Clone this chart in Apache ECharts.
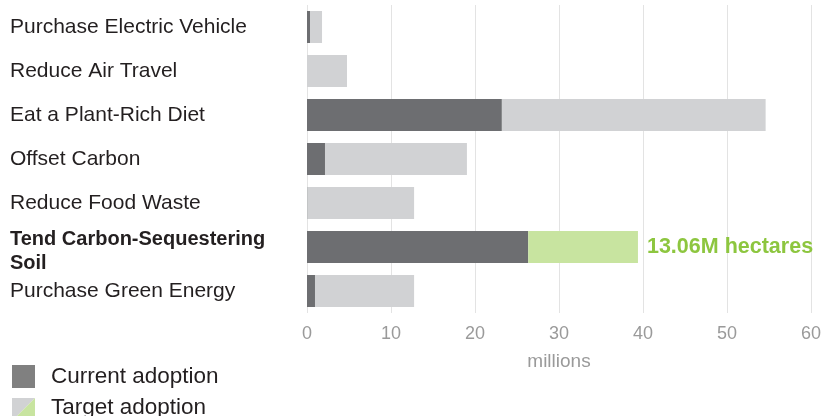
<!DOCTYPE html>
<html><head><meta charset="utf-8">
<script src="https://cdn.jsdelivr.net/npm/echarts@6/dist/echarts.min.js"></script>
<style>html,body{margin:0;padding:0;background:#fff}#c{width:824px;height:416px}</style>
</head><body><div id="c"></div>
<script>
const categories = ["Purchase Electric Vehicle","Reduce Air Travel","Eat a Plant-Rich Diet","Offset Carbon","Reduce Food Waste","Tend Carbon-Sequestering\nSoil","Purchase Green Energy"];
const currentAdoption = [0.36, 0, 23.2, 2.14, 0.05, 26.34, 0.95];
const additionalToTarget = [1.43, 4.76, 31.4, 16.9, 12.7, 13.06, 11.8];
const highlightIndex = 5;
const highlightLabel = "13.06M hectares";
const xTicks = [0, 10, 20, 30, 40, 50, 60];

const FONT = "Liberation Sans";
const chart = echarts.init(document.getElementById('c'));
chart.setOption({
  animation: false,
  textStyle: {fontFamily: FONT},
  grid: {left: 307, right: 13, top: 5, height: 308, containLabel: false},
  xAxis: {
    type: 'value', min: xTicks[0], max: xTicks[xTicks.length-1], interval: 10,
    axisLine: {show: false}, axisTick: {show: false},
    splitLine: {lineStyle: {color: '#e3e3e3', width: 1}},
    axisLabel: {color: '#9a9a9a', fontSize: 18, margin: 12, fontFamily: FONT},
    name: 'millions', nameLocation: 'middle', nameGap: 39,
    nameTextStyle: {color: '#9a9a9a', fontSize: 19, fontFamily: FONT}
  },
  yAxis: {
    type: 'category', data: categories, inverse: true,
    axisLine: {show: false}, axisTick: {show: false},
    axisLabel: {
      align: 'left', margin: 297, color: '#231f20', fontSize: 21, fontFamily: FONT, lineHeight: 24,
      formatter: (v, i) => i === highlightIndex ? '{s| }\n{b|' + v.split('\n').join('}\n{b|') + '}' : v,
      rich: {
        b: {fontWeight: 'bold', fontSize: 20, color: '#231f20', fontFamily: FONT, lineHeight: 24},
        s: {fontSize: 4, lineHeight: 8}
      }
    }
  },
  series: [
    {type: 'bar', stack: 'a', barWidth: 32, data: currentAdoption,
     itemStyle: {color: '#6d6e71'}},
    {type: 'bar', stack: 'a', barWidth: 32,
     data: additionalToTarget.map((v, i) => i === highlightIndex ? {
       value: v, itemStyle: {color: '#c8e4a0'},
       label: {show: true, position: 'right', distance: 9, formatter: highlightLabel,
               color: '#8dc63f', fontWeight: 'bold', fontSize: 21.5, fontFamily: FONT}
     } : v),
     itemStyle: {color: '#d1d2d4'}}
  ],
  graphic: [
    {type: 'rect', shape: {x: 12, y: 365, width: 23, height: 23}, style: {fill: '#808080'}},
    {type: 'text', x: 51, y: 377, style: {text: 'Current adoption', fill: '#231f20', font: '22.5px "' + FONT + '"', verticalAlign: 'middle'}},
    {type: 'polygon', shape: {points: [[12,398],[35,398],[12,421]]}, style: {fill: '#d1d2d4'}},
    {type: 'polygon', shape: {points: [[35,398],[35,421],[12,421]]}, style: {fill: '#c8e4a0'}},
    {type: 'text', x: 51, y: 408, style: {text: 'Target adoption', fill: '#231f20', font: '22.5px "' + FONT + '"', verticalAlign: 'middle'}}
  ]
});
</script></body></html>
